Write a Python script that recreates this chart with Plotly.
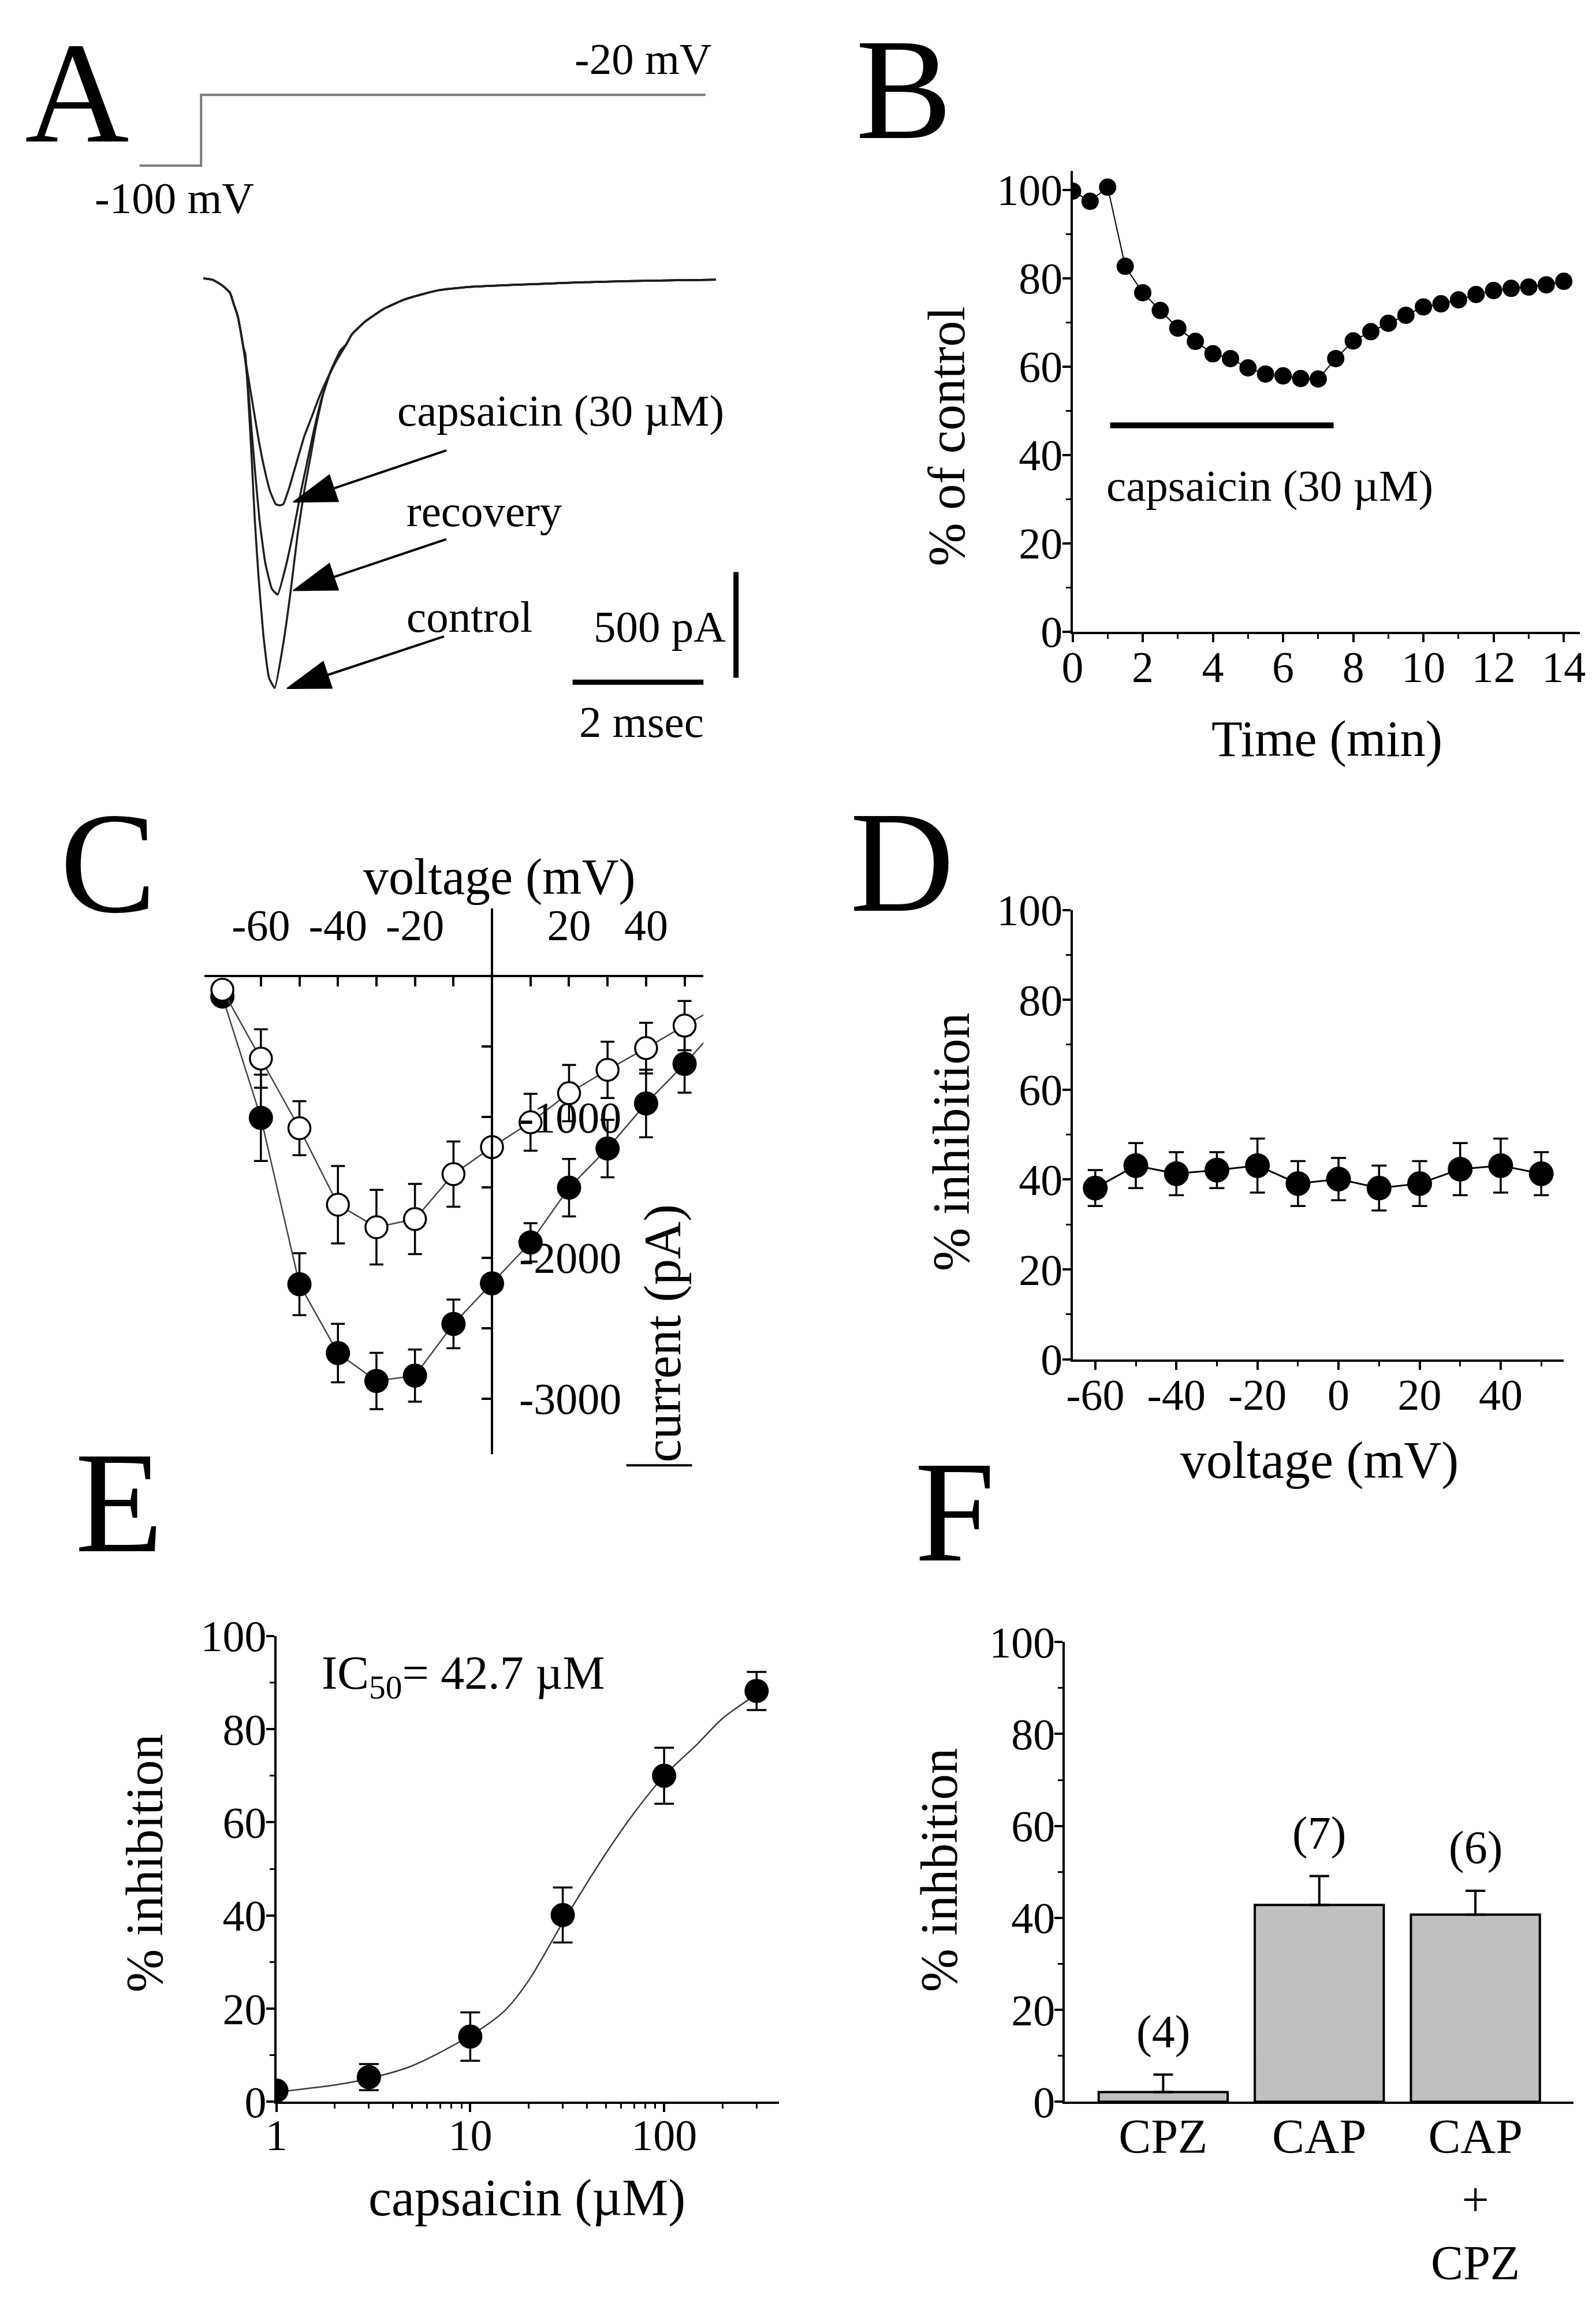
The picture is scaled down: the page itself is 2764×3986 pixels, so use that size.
import math
import plotly.graph_objects as go

W, H = 2764, 3986
SERIF = "Liberation Serif, Times New Roman, DejaVu Serif, serif"

# ---------------- A: voltage protocol and sodium current traces ----------------
step_ms = [-0.96, -0.02, 7.69]
step_mv = [-100, -20, -20]

rise_ms = [0.015, 0.160, 0.306, 0.422, 0.480, 0.539, 0.582, 0.626]
rise_pa = [4, -3, -30, -64, -118, -173, -241, -322]

control_ms = [0.655, 0.713, 0.757, 0.801, 0.859, 0.932, 1.019, 1.106, 1.237, 1.354,
              1.456, 1.557, 1.645, 1.732, 1.849, 1.965, 2.111]
control_pa = [-350, -622, -866, -1138, -1410, -1682, -1886, -1934, -1723, -1465,
              -1206, -1002, -853, -703, -540, -431, -336]
recovery_ms = [0.684, 0.742, 0.801, 0.873, 0.961, 1.063, 1.150, 1.266, 1.383, 1.499,
               1.601, 1.703, 1.820, 1.936, 2.082]
recovery_pa = [-458, -676, -894, -1138, -1342, -1465, -1492, -1370, -1206, -1016,
               -866, -717, -567, -458, -363]
capsaicin_ms = [0.684, 0.771, 0.859, 0.946, 1.034, 1.121, 1.179, 1.237, 1.325, 1.441,
                1.557, 1.674, 1.790, 1.907, 2.052]
capsaicin_pa = [-431, -594, -758, -894, -1002, -1064, -1070, -1064, -989, -866,
                -744, -649, -554, -472, -384]

tail_ms = [2.198, 2.285, 2.489, 2.780, 3.071, 3.362, 3.654, 4.061, 4.5, 5.0, 5.5,
           6.0, 6.5, 7.0, 7.5, 7.85]
tail_pa = [-309, -261, -200, -139, -98, -71, -50, -37, -30, -24, -18, -13, -9, -6, -4, -2]

scale_ms = 2
scale_pa = 500

# ---------------- B: time course ----------------
time_min = [0, 0.5, 1, 1.5, 2, 2.5, 3, 3.5, 4, 4.5, 5, 5.5, 6, 6.5, 7, 7.5,
            8, 8.5, 9, 9.5, 10, 10.5, 11, 11.5, 12, 12.5, 13, 13.5, 14]
pct_control = [99.7, 97.4, 100.6, 82.7, 76.7, 72.7, 68.7, 65.7, 62.9, 61.8, 59.7, 58.3,
               57.9, 57.3, 57.2, 61.8, 65.8, 67.9, 69.8, 71.6, 73.5, 74.2, 75.1, 76.3,
               77.2, 77.7, 78.0, 78.5, 79.3]
cap_on_min = [1.07, 7.44]
cap_bar_level = [46.7, 46.7]

# ---------------- C: I-V relation ----------------
iv_mv = [-70, -60, -50, -40, -30, -20, -10, 0, 10, 20, 30, 40, 50, 60]
iv_control = [-144, -1006, -2188, -2677, -2875, -2837, -2470, -2182, -1891, -1502,
              -1224, -904, -623, -320]
iv_control_err = [0, 307, 220, 208, 200, 185, 173, 60, 136, 204, 204, 240, 204, 200]
iv_caps = [-96, -585, -1080, -1623, -1783, -1725, -1406, -1214, -1038, -831,
           -665, -511, -351, -198]
iv_caps_err = [0, 208, 192, 275, 265, 249, 232, 60, 202, 200, 200, 180, 175, 175]

# ---------------- D: voltage dependence of block ----------------
d_mv = [-60, -50, -40, -30, -20, -10, 0, 10, 20, 30, 40, 50]
d_inhib = [38.1, 43.1, 41.3, 42.1, 43.1, 39.1, 40.1, 38.1, 39.1, 42.3, 43.1, 41.3]
d_err = [4.0, 5.0, 4.8, 4.0, 6.0, 5.0, 4.7, 5.0, 5.0, 5.8, 6.0, 4.8]

# ---------------- E: concentration-response ----------------
conc_um = [1, 3, 10, 30, 100, 300]
e_inhib = [2.4, 5.3, 14.0, 40.1, 70.0, 88.2]
e_err = [1.0, 2.8, 5.2, 5.9, 6.0, 4.1]
fit_conc = [1, 2, 3, 5, 10, 15, 20, 30, 50, 70, 100, 150, 200, 300]
fit_inhib = [2.1, 3.6, 5.0, 7.7, 14.2, 19.5, 26.0, 38.5, 53.3, 62.0, 70.0, 77.0, 82.3, 87.5]

# ---------------- F: bar chart ----------------
groups = ["CPZ", "CAP", "CAP<br>+<br>CPZ"]
f_inhib = [2.1, 42.8, 40.7]
f_err = [3.8, 6.3, 5.2]
f_n = ["(4)", "(7)", "(6)"]


def xp(v):
    return v / W


def yp(v):
    return 1 - v / H


fig = go.Figure()

# A
trace_line = dict(color="#1e1e1e", width=3.5)
fig.add_trace(go.Scatter(x=step_ms, y=step_mv, mode="lines", line=dict(color="#7a7a7a", width=4, shape="hv"),
                         xaxis="x", yaxis="y7"))
for ts, vs in [(control_ms, control_pa), (recovery_ms, recovery_pa), (capsaicin_ms, capsaicin_pa)]:
    fig.add_trace(go.Scatter(x=rise_ms + ts + tail_ms, y=rise_pa + vs + tail_pa, mode="lines",
                             line=trace_line, line_shape="spline", line_smoothing=0.4,
                             xaxis="x", yaxis="y"))
# scale bars
sb_t0, sb_i0 = 5.659, -1906.6
fig.add_trace(go.Scatter(x=[sb_t0, sb_t0 + scale_ms], y=[sb_i0, sb_i0], mode="lines",
                         line=dict(color="black", width=9), xaxis="x", yaxis="y"))
fig.add_trace(go.Scatter(x=[8.157, 8.157], y=[-1885, -1885 + scale_pa], mode="lines",
                         line=dict(color="black", width=9), xaxis="x", yaxis="y"))
# arrows pointing at the three traces
for tail_t, tail_i, head_t, head_i in [(3.729, -810, 1.389, -1054),
                                       (3.729, -1230, 1.389, -1473),
                                       (3.694, -1690, 1.293, -1936)]:
    fig.add_trace(go.Scatter(x=[tail_t, head_t], y=[tail_i, head_i], mode="lines+markers",
                             line=dict(color="black", width=4),
                             marker=dict(symbol="arrow", size=[0, 78], angleref="previous", color="black",
                                         opacity=1, line=dict(color="black", width=2)),
                             xaxis="x", yaxis="y"))

# B
fig.add_trace(go.Scatter(x=time_min, y=pct_control, mode="lines+markers",
                         line=dict(color="black", width=2),
                         marker=dict(color="black", size=30), xaxis="x2", yaxis="y2"))
fig.add_trace(go.Scatter(x=cap_on_min, y=cap_bar_level, mode="lines",
                         line=dict(color="black", width=10), xaxis="x2", yaxis="y2"))

# C
fig.add_trace(go.Scatter(x=iv_mv, y=iv_control, mode="lines+markers",
                         line=dict(color="#444444", width=2.5),
                         marker=dict(color="black", size=42),
                         error_y=dict(type="data", array=iv_control_err, color="black", thickness=3.5, width=12),
                         xaxis="x3", yaxis="y3"))
fig.add_trace(go.Scatter(x=iv_mv, y=iv_caps, mode="lines+markers",
                         line=dict(color="#444444", width=2.5),
                         marker=dict(color="white", size=38, line=dict(color="black", width=3.5)),
                         error_y=dict(type="data", array=iv_caps_err, color="black", thickness=3.5, width=12),
                         xaxis="x3", yaxis="y3"))

# D
fig.add_trace(go.Scatter(x=d_mv, y=d_inhib, mode="lines+markers",
                         line=dict(color="black", width=3),
                         marker=dict(color="black", size=43),
                         error_y=dict(type="data", array=d_err, color="black", thickness=3.5, width=13),
                         xaxis="x4", yaxis="y4"))

# E
fig.add_trace(go.Scatter(x=fit_conc, y=fit_inhib, mode="lines",
                         line=dict(color="#3a3a3a", width=2.5, shape="spline", smoothing=0.8),
                         xaxis="x5", yaxis="y5"))
fig.add_trace(go.Scatter(x=conc_um, y=e_inhib, mode="markers",
                         marker=dict(color="black", size=42),
                         error_y=dict(type="data", array=e_err, color="black", thickness=3.5, width=17),
                         xaxis="x5", yaxis="y5"))

# F
fig.add_trace(go.Bar(x=groups, y=f_inhib, width=0.826,
                     marker=dict(color="#c0c0c0", line=dict(color="black", width=4)),
                     error_y=dict(type="data", symmetric=False, array=f_err, arrayminus=[0, 0, 0],
                                  color="black", thickness=4, width=17),
                     xaxis="x6", yaxis="y6"))

tick_font = dict(family=SERIF, size=76, color="black")


def axis(**kw):
    base = dict(showline=True, linecolor="black", linewidth=4, showgrid=False, zeroline=False,
                ticks="outside", ticklen=14, tickwidth=4, tickcolor="black", tickfont=tick_font)
    base.update(kw)
    return base


def minor(step, side="outside"):
    return dict(dtick=step, ticks=side, ticklen=8, tickwidth=3, tickcolor="black")


hidden = dict(visible=False, showgrid=False, zeroline=False)

# negative ticks in the original use a plain hyphen, so the labels are given as text
d_ticks = [-60, -40, -20, 0, 20, 40]
c_xticks = [-60, -40, -20, 20, 40]
c_yticks = [-3000, -2000, -1000]

layout = dict(
    width=W, height=H, margin=dict(l=0, r=0, t=0, b=0, pad=0),
    paper_bgcolor="white", plot_bgcolor="rgba(0,0,0,0)", showlegend=False,
    font=dict(family=SERIF, color="black"),
    xaxis=dict(hidden, domain=[xp(200), xp(1300)], range=[-1.179, 8.428], anchor="y"),
    yaxis=dict(hidden, domain=[yp(1300), yp(380)], range=[-2268, 192.5], anchor="x"),
    yaxis7=dict(hidden, domain=[yp(380), yp(0)], range=[-182.6, 60.6], anchor="x"),
    xaxis2=axis(domain=[xp(1858), xp(2746)], range=[0, 14.46], anchor="y2", tick0=0, dtick=2,
                minor=minor(1), ticklabelstandoff=-22),
    yaxis2=axis(domain=[yp(1075.5), yp(261)], range=[0, 104.2], anchor="x2", tick0=0, dtick=20,
                minor=minor(10), ticklabelstandoff=-16),
    xaxis3=axis(domain=[xp(339), xp(1212)], range=[-74.6, 54.9], anchor="free", position=yp(1684.8),
                side="top", ticks="inside", ticklen=16,
                tickvals=c_xticks, ticktext=[str(v) for v in c_xticks],
                minor=dict(tickvals=[-50, -30, -10, 10, 30, 50], ticks="inside", ticklen=16,
                           tickwidth=4, tickcolor="black"),
                ticklabelstandoff=30),
    yaxis3=axis(domain=[yp(2530), yp(1565)], range=[-3394, 481], anchor="free", position=xp(841.7),
                side="right", ticks="inside", ticklen=16,
                tickvals=c_yticks, ticktext=[str(v) for v in c_yticks],
                minor=dict(tickvals=[-2500, -1500, -500], ticks="inside", ticklen=16,
                           tickwidth=4, tickcolor="black"),
                ticklabelstandoff=30),
    xaxis4=axis(domain=[xp(1858), xp(2717.3)], range=[-65.6, 55.5], anchor="y4",
                tickvals=d_ticks, ticktext=[str(v) for v in d_ticks],
                minor=minor(10), ticklabelstandoff=-22),
    yaxis4=axis(domain=[yp(2362.4), yp(1567.6)], range=[0, 100], anchor="x4", tick0=0, dtick=20,
                minor=minor(10), ticklabelstandoff=-16),
    xaxis5=axis(type="log", domain=[xp(464.5), xp(1344)], range=[0, 2.592], anchor="y5",
                tickvals=[1, 10, 100], ticktext=["1", "10", "100"], ticklabelstandoff=-26,
                minor=dict(ticks="outside", ticklen=8, tickwidth=3, tickcolor="black",
                           tickvals=[2, 3, 4, 5, 6, 7, 8, 9, 20, 30, 40, 50, 60, 70, 80, 90, 200, 300])),
    yaxis5=axis(domain=[yp(3675.8), yp(2851.9)], range=[0, 100], anchor="x5", tick0=0, dtick=20,
                minor=minor(10), ticklabelstandoff=-16),
    xaxis6=axis(type="category", domain=[xp(1844.7), xp(2734.9)], range=[-0.629, 2.629], anchor="y6",
                ticks="", tickfont=dict(family=SERIF, size=84, color="black"), ticklabelstandoff=-16),
    yaxis6=axis(domain=[yp(3675.8), yp(2862.5)], range=[0, 100], anchor="x6", tick0=0, dtick=20,
                minor=minor(10), ticklabelstandoff=-16),
)
fig.update_layout(**layout)

ann = []


def text(s, x, y, size=77, xanchor="center", yanchor="middle", angle=0):
    ann.append(dict(text=s, x=xp(x), y=yp(y), xref="paper", yref="paper", showarrow=False,
                    xanchor=xanchor, yanchor=yanchor, textangle=angle,
                    font=dict(family=SERIF, size=size, color="black")))


# panel letters
for letter, lx, ly in [("A", 22, 122), ("B", 1476, 116), ("C", 84, 1485),
                       ("D", 1466, 1483), ("E", 110, 2616), ("F", 1580, 2632)]:
    text(letter, lx, ly, size=250, xanchor="left")

# A labels
text("-20 mV", 1228, 62, xanchor="right")
text("-100 mV", 286, 309)
text("capsaicin (30 µM)", 962, 684)
text("recovery", 690, 862, xanchor="left")
text("control", 690, 1049, xanchor="left")
text("500 pA", 1018, 1066, xanchor="left")
text("2 msec", 1104, 1235)

# B labels
text("% of control", 1638, 730, size=90, angle=-90)
text("Time (min)", 2303, 1265, size=88)
text("capsaicin (30 µM)", 1915, 817, xanchor="left")

# C labels
text("voltage (mV)", 855, 1509, size=88)
text("current (pA)", 1141, 2317, size=90, angle=-90)

# D labels
text("% inhibition", 1646, 1978, size=90, angle=-90)
text("voltage (mV)", 2290, 2542, size=90)

# E labels
text("% inhibition", 234, 3254, size=90, angle=-90)
text("capsaicin (µM)", 903, 3846, size=90)
ann.append(dict(text="IC<sub>50</sub>= 42.7 µM", x=math.log10(1.69), y=91.4, xref="x5", yref="y5",
                showarrow=False, xanchor="left", yanchor="middle",
                font=dict(family=SERIF, size=82, color="black")))

# F labels
text("% inhbition", 1624, 3265, size=90, angle=-90)
for g, v, e, n in zip(groups, f_inhib, f_err, f_n):
    ann.append(dict(text=n, x=g, y=v + e + 9.3, xref="x6", yref="y6", showarrow=False,
                    xanchor="center", yanchor="middle", font=dict(family=SERIF, size=80, color="black")))

fig.update_layout(annotations=ann)

# small bar under the rotated current label in C
fig.add_shape(type="line", xref="paper", yref="paper", x0=xp(1077), x1=xp(1192), y0=yp(2550), y1=yp(2550),
              line=dict(color="black", width=4))

fig.write_html("out.html", config={"displayModeBar": False},
               post_script="document.body.style.margin='0';")
